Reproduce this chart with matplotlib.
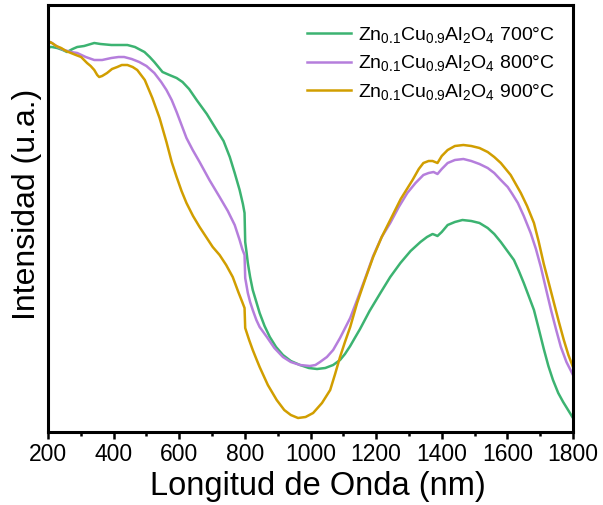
import matplotlib
matplotlib.use("Agg")
import matplotlib.pyplot as plt
from matplotlib.ticker import MultipleLocator

plt.rcParams["font.family"] = ["Liberation Sans", "DejaVu Sans"]
plt.rcParams["mathtext.fontset"] = "custom"
plt.rcParams["mathtext.rm"] = "Liberation Sans"
plt.rcParams["mathtext.it"] = "Liberation Sans"
plt.rcParams["mathtext.default"] = "regular"

# Diffuse reflectance spectra, wavelength in nm, intensity in arbitrary units
wl_700 = [200, 205, 212, 228, 245, 258, 275, 289, 310, 341, 360, 393, 420, 442,
          465, 494, 510, 524, 549, 570, 592, 610, 630, 653, 684, 714, 735, 754,
          769, 784, 794, 799, 801, 805, 809, 816, 824, 835, 845, 860, 876, 895,
          916, 940, 968, 995, 1020, 1045, 1069, 1090, 1105, 1121, 1135, 1151,
          1180, 1213, 1243, 1274, 1305, 1335, 1355, 1372, 1380, 1387, 1400, 1418,
          1440, 1463, 1490, 1515, 1540, 1560, 1580, 1600, 1620, 1635, 1650, 1665,
          1681, 1695, 1711, 1725, 1739, 1755, 1770, 1785, 1800]
int_700 = [382, 385, 385, 384, 382, 380, 383, 385, 386, 389, 388, 387, 387, 387,
           385, 380, 375, 370, 360, 357, 354, 350, 343, 332, 318, 302, 291, 275,
           259, 242, 228, 219, 190, 180, 169, 155, 142, 130, 119, 106, 95, 85,
           77, 71, 67, 64, 63, 64, 67, 72, 78, 86, 94, 103,
           121, 139, 155, 169, 181, 190, 195, 198, 197, 196, 200, 207,
           210, 212, 211, 209, 204, 198, 190, 181, 172, 161, 149, 136,
           122, 104, 83, 66, 52, 39, 30, 22, 14]

wl_800 = [200, 206, 212, 230, 249, 270, 289, 315, 341, 365, 393, 415, 432, 455,
          478, 500, 524, 545, 561, 577, 592, 607, 622, 641, 662, 692, 723, 748,
          769, 784, 792, 799, 801, 809, 816, 824, 835, 845, 856, 867, 890, 916,
          940, 968, 998, 1015, 1029, 1050, 1069, 1090, 1121, 1142, 1167, 1191,
          1217, 1243, 1269, 1295, 1320, 1335, 1344, 1360, 1375, 1387, 1400, 1418,
          1440, 1466, 1490, 1515, 1540, 1560, 1580, 1601, 1615, 1632, 1650, 1671,
          1687, 1702, 1717, 1733, 1748, 1763, 1780, 1800]
int_800 = [387, 390, 389, 385, 382, 380, 379, 375, 372, 372, 374, 375, 375, 373,
           370, 366, 359, 350, 342, 332, 320, 307, 294, 282, 270, 252, 235, 221,
           207, 192, 183, 177, 154, 139, 130, 122, 112, 105, 100, 95, 84, 75,
           70, 67, 66, 67, 70, 75, 82, 94, 114, 132, 154, 176,
           195, 209, 225, 239, 249, 254, 257, 259, 260, 258, 263, 269,
           272, 273, 271, 268, 264, 259, 252, 245, 238, 229, 216, 199,
           183, 165, 144, 122, 103, 85, 70, 57]

wl_900 = [200, 206, 212, 225, 240, 255, 270, 285, 301, 319, 330, 341, 350, 356,
          365, 380, 395, 411, 425, 442, 458, 472, 495, 518, 540, 561, 577, 592,
          607, 622, 642, 662, 682, 702, 723, 743, 763, 780, 792, 799, 801, 813,
          824, 835, 845, 870, 897, 920, 940, 962, 985, 1008, 1035, 1060, 1075,
          1090, 1105, 1121, 1142, 1167, 1191, 1217, 1243, 1275, 1311, 1330, 1344,
          1360, 1372, 1387, 1400, 1418, 1440, 1466, 1490, 1515, 1540, 1560, 1580,
          1610, 1641, 1660, 1681, 1695, 1711, 1727, 1742, 1757, 1772, 1786, 1800]
int_900 = [387, 390, 389, 386, 384, 381, 379, 377, 375, 369, 366, 362, 357, 355,
           356, 359, 363, 365, 367, 367, 365, 362, 352, 334, 314, 290, 270, 255,
           241, 229, 216, 205, 195, 185, 177, 167, 155, 140, 130, 124, 104, 92,
           82, 73, 65, 47, 32, 22, 17, 14, 15, 19, 29, 42, 58,
           75, 90, 105, 129, 153, 175, 195, 212, 233, 252, 263, 269,
           271, 271, 269, 276, 282, 286, 287, 286, 284, 280, 275, 269,
           257, 239, 226, 209, 191, 168, 148, 129, 110, 92, 77, 65]

labels = [r"Zn$_{0.1}$Cu$_{0.9}$Al$_2$O$_4$ 700°C",
          r"Zn$_{0.1}$Cu$_{0.9}$Al$_2$O$_4$ 800°C",
          r"Zn$_{0.1}$Cu$_{0.9}$Al$_2$O$_4$ 900°C"]
colors = ["#3CB371", "#B57EDC", "#D19E00"]

x_ticks = [200, 400, 600, 800, 1000, 1200, 1400, 1600, 1800]

fig = plt.figure(figsize=(6.03, 5.05), dpi=100)
ax = fig.add_axes([48 / 603, 1 - 432 / 505, 525 / 603, 427 / 505])

for wl, inten, lab, col in zip([wl_700, wl_800, wl_900],
                               [int_700, int_800, int_900], labels, colors):
    ax.plot(wl, inten, color=col, lw=1.8, label=lab, solid_joinstyle="round")

ax.set_xlim(200, 1800)
ax.set_ylim(0, 427)
ax.set_xticks(x_ticks)
ax.set_xticklabels([str(t) for t in x_ticks])
ax.xaxis.set_minor_locator(MultipleLocator(100))
ax.set_yticks([])

ax.tick_params(axis="x", which="major", direction="out", length=5, width=1.8,
               labelsize=16.5, pad=3)
ax.tick_params(axis="x", which="minor", direction="out", length=3, width=1.8)
for sp in ax.spines.values():
    sp.set_linewidth(2.2)

ax.set_xlabel("Longitud de Onda (nm)", fontsize=23.5)
ax.xaxis.set_label_coords(0.514, -0.092)
ax.set_ylabel("Intensidad (u.a.)", fontsize=23)
ax.yaxis.set_label_coords(-0.012, 0.534)

leg = ax.legend(loc="upper right", bbox_to_anchor=(0.992, 0.985), frameon=False,
                fontsize=14, handlelength=2.3, handletextpad=0.35,
                labelspacing=0.43, borderaxespad=0.3)

fig.savefig("out.png", dpi=100)
